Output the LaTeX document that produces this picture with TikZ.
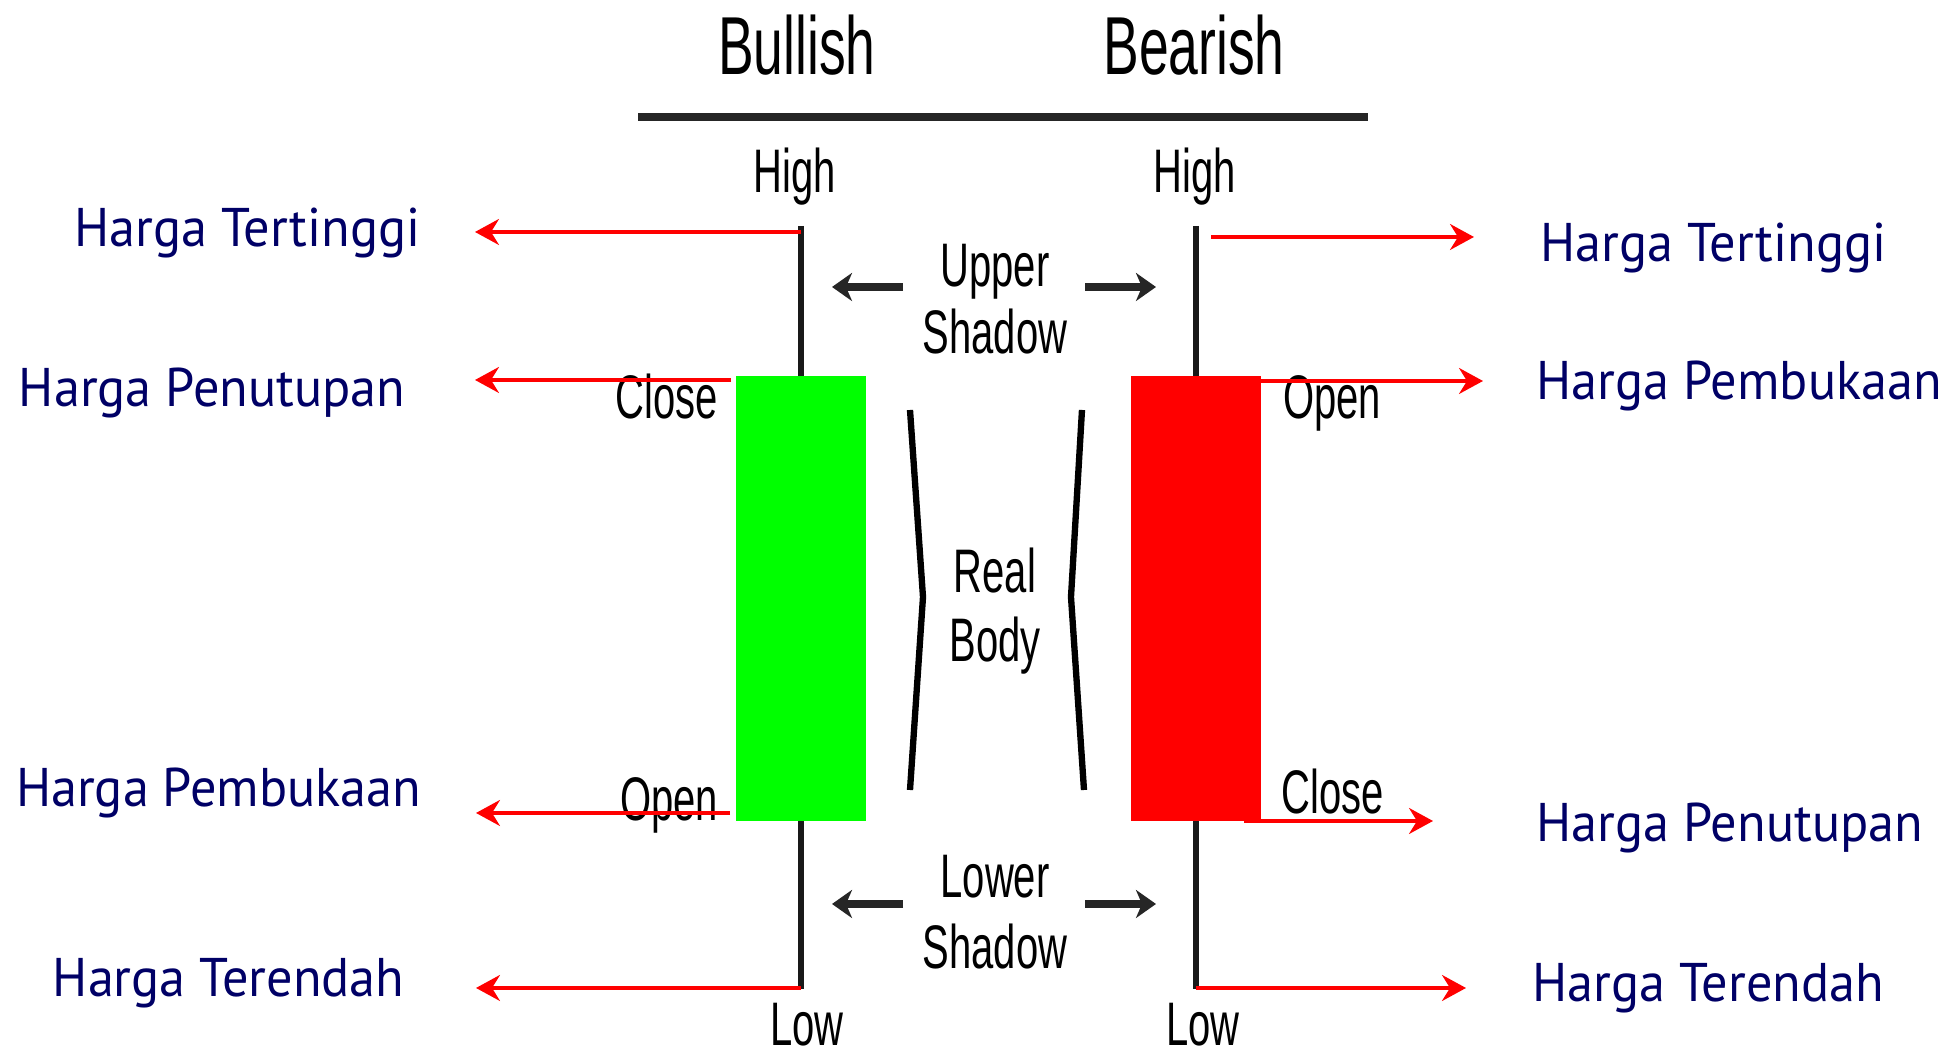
\documentclass[tikz,border=0pt]{standalone}
\usepackage{fontspec}
\usepackage{xcolor}
\usepackage{tikz}
\usetikzlibrary{arrows.meta}

\newfontfamily\narrowfont[FakeStretch=0.65]{Liberation Sans}
\newfontfamily\hargafont[FakeStretch=0.96]{PT Sans}
\definecolor{hargablue}{RGB}{0,0,102}
\definecolor{bullgreen}{RGB}{0,255,0}
\definecolor{bearred}{RGB}{255,0,0}

\begin{document}
\begin{tikzpicture}[
    title/.style={font=\narrowfont\fontsize{23.4}{26}\selectfont, anchor=base, inner sep=0pt},
    tag/.style={font=\narrowfont\fontsize{17.5}{20}\selectfont, anchor=base, inner sep=0pt},
    harga/.style={font=\hargafont\fontsize{15.5}{18}\selectfont, text=hargablue, inner sep=0pt},
    wick/.style={line width=1.5pt, black!90},
    body/.style={minimum width=1.30cm, minimum height=4.45cm, inner sep=0pt},
    pointer/.style={-{Stealth[length=0.24cm, width=0.26cm, inset=0.08cm]}, line width=0.9pt, bearred},
    shadow/.style={-{Stealth[length=0.2cm, width=0.28cm, inset=0.06cm]}, line width=2.2pt, black!85},
    brace/.style={line width=1.8pt, black, line join=miter}
  ]
  \useasboundingbox (0,0) rectangle (19.5,10.54);

  % header
  \node[title] (bullish) at (7.97, 9.79) {Bullish};
  \node[title] (bearish) at (11.94, 9.79) {Bearish};
  \draw[line width=2.3pt, black!85] (6.38, 9.37) -- (13.68, 9.37);

  % wicks
  \coordinate (bullhi) at (8.01, 8.28);
  \coordinate (bulllo) at (8.01, 0.65);
  \coordinate (bearhi) at (11.96, 8.28);
  \coordinate (bearlo) at (11.96, 0.65);
  \draw[wick] (bullhi) -- (bulllo);
  \draw[wick] (bearhi) -- (bearlo);

  % bodies
  \node[body, fill=bullgreen] (bull) at (8.01, 4.555) {};
  \node[body, fill=bearred] (bear) at (11.955, 4.555) {};

  \node[tag] (highL) at (7.95, 8.61) {High};
  \node[tag] (highR) at (11.95, 8.61) {High};
  \node[tag] (lowL) at (8.07, 0.08) {Low};
  \node[tag] (lowR) at (12.03, 0.08) {Low};
  \node[tag] (closeL) at (6.67, 6.35) {Close};
  \node[tag] (openL) at (6.69, 2.33) {Open};
  \node[tag] (openR) at (13.32, 6.35) {Open};
  \node[tag] (closeR) at (13.33, 2.40) {Close};

  % middle captions
  \node[tag] (upper) at (9.95, 7.67) {Upper};
  \node[tag] (upshadow) at (9.95, 7.00) {Shadow};
  \node[tag] (real) at (9.95, 4.61) {Real};
  \node[tag] (realbody) at (9.95, 3.92) {Body};
  \node[tag] (lower) at (9.95, 1.56) {Lower};
  \node[tag] (lowshadow) at (9.95, 0.85) {Shadow};

  \coordinate (ua) at (9.03, 7.67);
  \coordinate (ub) at (8.32, 7.67);
  \coordinate (uc) at (10.85, 7.67);
  \coordinate (ud) at (11.56, 7.67);
  \coordinate (la) at (9.03, 1.50);
  \coordinate (lb) at (8.32, 1.50);
  \coordinate (lc) at (10.85, 1.50);
  \coordinate (ld) at (11.56, 1.50);
  \draw[shadow] (ua) -- (ub);
  \draw[shadow] (uc) -- (ud);
  \draw[shadow] (la) -- (lb);
  \draw[shadow] (lc) -- (ld);

  \draw[brace] (9.10, 6.44) -- (9.23, 4.57) -- (9.10, 2.64);
  \draw[brace] (10.82, 6.44) -- (10.71, 4.57) -- (10.84, 2.64);

  % indonesian labels
  \node[harga, anchor=base east] (tinggiL) at (4.21, 8.07) {Harga Tertinggi};
  \node[harga, anchor=base east] (tutupL) at (4.06, 6.47) {Harga Penutupan};
  \node[harga, anchor=base east] (bukaL) at (4.22, 2.47) {Harga Pembukaan};
  \node[harga, anchor=base east] (rendahL) at (4.05, 0.57) {Harga Terendah};
  \node[harga, anchor=base west] (tinggiR) at (15.40, 7.92) {Harga Tertinggi};
  \node[harga, anchor=base west] (bukaR) at (15.36, 6.54) {Harga Pembukaan};
  \node[harga, anchor=base west] (tutupR) at (15.36, 2.12) {Harga Penutupan};
  \node[harga, anchor=base west] (rendahR) at (15.32, 0.52) {Harga Terendah};

  \coordinate (p1) at (8.01, 8.22);
  \coordinate (p2) at (7.31, 6.74);
  \coordinate (p3) at (7.30, 2.41);
  \coordinate (p4) at (8.01, 0.66);
  \coordinate (t1) at (4.75, 8.22);
  \coordinate (t2) at (4.75, 6.74);
  \coordinate (t3) at (4.76, 2.41);
  \coordinate (t4) at (4.76, 0.66);
  \draw[pointer] (p1) -- (t1);
  \draw[pointer] (p2) -- (t2);
  \draw[pointer] (p3) -- (t3);
  \draw[pointer] (p4) -- (t4);

  \coordinate (q1) at (12.11, 8.17);
  \coordinate (q2) at (12.61, 6.73);
  \coordinate (q3) at (12.44, 2.33);
  \coordinate (q4) at (11.96, 0.66);
  \coordinate (s1) at (14.74, 8.17);
  \coordinate (s2) at (14.83, 6.73);
  \coordinate (s3) at (14.33, 2.33);
  \coordinate (s4) at (14.66, 0.66);
  \draw[pointer] (q1) -- (s1);
  \draw[pointer] (q2) -- (s2);
  \draw[pointer] (q3) -- (s3);
  \draw[pointer] (q4) -- (s4);
\end{tikzpicture}
\end{document}
